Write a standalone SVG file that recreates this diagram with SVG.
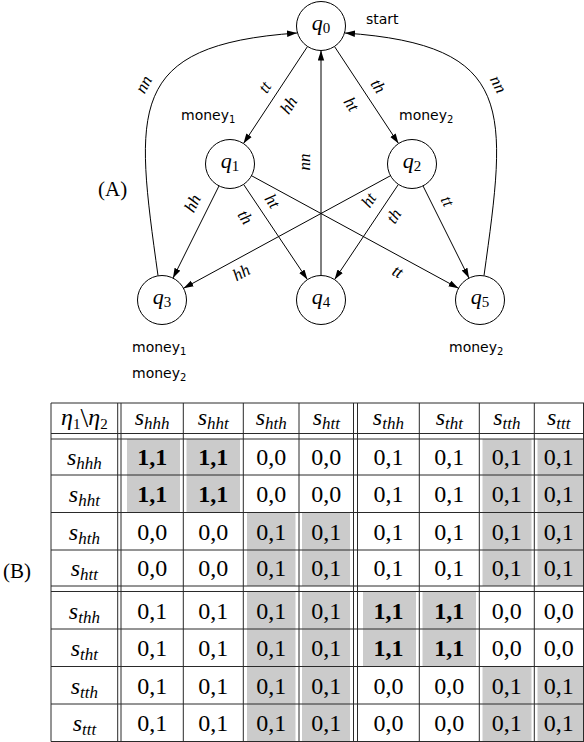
<svg xmlns="http://www.w3.org/2000/svg" width="584" height="742" viewBox="0 0 584 742">
  <style>
    .n circle { fill: #fff; stroke: #000; stroke-width: 1; }
    .nl { font-family: "Liberation Serif", serif; font-size: 22px; text-anchor: middle; }
    .e { fill: none; stroke: #000; stroke-width: 1; marker-end: url(#ah); }
    .lbl { font-family: "Liberation Serif", serif; font-style: italic; font-size: 17px; text-anchor: middle; }
    .sans { font-family: "DejaVu Sans", sans-serif; font-size: 14px; }
    .cap { font-family: "Liberation Serif", serif; font-size: 21px; }
    .tv { font-family: "Liberation Serif", serif; font-size: 24px; text-anchor: middle; }
    .b { font-weight: bold; }
    .g { fill: #cbcbcb; }
    .tl { stroke: #2a2a2a; stroke-width: 1; fill: none; }
    .it { font-style: italic; }
  </style>
  <defs>
    <marker id="ah" markerUnits="userSpaceOnUse" markerWidth="10" markerHeight="8" refX="10" refY="3.5" orient="auto">
      <path d="M0,0.3 L10,3.5 L0,6.7 z" fill="#000"/>
    </marker>
  </defs>

  <!-- part captions -->
  <text class="cap" x="98" y="196">(A)</text>
  <text class="cap" x="3" y="578">(B)</text>

  <!-- transitions -->
  <g id="edges">
    <line class="e" x1="307.5" y1="46.5" x2="243.5" y2="143.5"/>
    <line class="e" x1="334.5" y1="46.5" x2="398.5" y2="143.5"/>
    <line class="e" x1="321" y1="275.5" x2="321" y2="50.5"/>
    <path class="e" d="M158,275.6 C135,110 125,45 297,33"/>
    <path class="e" d="M484,275.6 C507,110 517,45 345,33"/>
    <line class="e" x1="219" y1="185.9" x2="173" y2="278.1"/>
    <line class="e" x1="243.6" y1="184.4" x2="307.4" y2="279.6"/>
    <line class="e" x1="251.5" y1="175.7" x2="458.5" y2="288.3"/>
    <line class="e" x1="390.5" y1="175.7" x2="183.5" y2="288.3"/>
    <line class="e" x1="398.4" y1="184.4" x2="334.6" y2="279.6"/>
    <line class="e" x1="423" y1="185.9" x2="469" y2="278.1"/>

    <text class="lbl" x="266" y="92" transform="rotate(-56.6 266 88)">tt</text>
    <text class="lbl" x="290" y="110" transform="rotate(-56.6 290 106)">hh</text>
    <text class="lbl" x="377" y="91" transform="rotate(56.6 377 87)">th</text>
    <text class="lbl" x="350" y="109" transform="rotate(56.6 350 105)">ht</text>
    <text class="lbl" x="145" y="89" transform="rotate(-62 145 85)">nn</text>
    <text class="lbl" x="497" y="89" transform="rotate(62 497 85)">nn</text>
    <text class="lbl" x="306" y="166" transform="rotate(-90 306 162)">nn</text>
    <text class="lbl" x="194" y="208" transform="rotate(-63.4 194 204)">hh</text>
    <text class="lbl" x="271" y="206" transform="rotate(56.2 271 202)">ht</text>
    <text class="lbl" x="244" y="222" transform="rotate(56.2 244 218)">th</text>
    <text class="lbl" x="397" y="277" transform="rotate(28.5 397 273)">tt</text>
    <text class="lbl" x="242" y="278" transform="rotate(-28.5 242 274)">hh</text>
    <text class="lbl" x="370" y="205" transform="rotate(-56.2 370 201)">ht</text>
    <text class="lbl" x="395" y="221" transform="rotate(-56.2 395 217)">th</text>
    <text class="lbl" x="446" y="206" transform="rotate(63.4 446 202)">tt</text>
  </g>

  <!-- states -->
  <g id="q0" class="n">
    <circle cx="321" cy="26" r="24.5"/>
    <text class="nl" x="321" y="30"><tspan class="it">q</tspan><tspan font-size="15" dy="3">0</tspan></text>
    <text class="sans" x="366" y="24">start</text>
  </g>
  <g id="q1" class="n">
    <circle cx="230" cy="164" r="24.5"/>
    <text class="nl" x="230" y="168"><tspan class="it">q</tspan><tspan font-size="15" dy="3">1</tspan></text>
    <text class="sans" x="181" y="120">money<tspan font-size="10" dy="3">1</tspan></text>
  </g>
  <g id="q2" class="n">
    <circle cx="412" cy="164" r="24.5"/>
    <text class="nl" x="412" y="168"><tspan class="it">q</tspan><tspan font-size="15" dy="3">2</tspan></text>
    <text class="sans" x="399" y="120">money<tspan font-size="10" dy="3">2</tspan></text>
  </g>
  <g id="q3" class="n">
    <circle cx="162" cy="300" r="24.5"/>
    <text class="nl" x="162" y="304"><tspan class="it">q</tspan><tspan font-size="15" dy="3">3</tspan></text>
    <text class="sans" x="132" y="352">money<tspan font-size="10" dy="3">1</tspan></text>
    <text class="sans" x="132" y="378">money<tspan font-size="10" dy="3">2</tspan></text>
  </g>
  <g id="q4" class="n">
    <circle cx="321" cy="300" r="24.5"/>
    <text class="nl" x="321" y="304"><tspan class="it">q</tspan><tspan font-size="15" dy="3">4</tspan></text>
  </g>
  <g id="q5" class="n">
    <circle cx="480" cy="300" r="24.5"/>
    <text class="nl" x="480" y="304"><tspan class="it">q</tspan><tspan font-size="15" dy="3">5</tspan></text>
    <text class="sans" x="449" y="352">money<tspan font-size="10" dy="3">2</tspan></text>
  </g>

  <!-- payoff table -->
  <g id="table">
    <!-- shaded cells -->
    <rect class="g" x="127" y="439" width="53" height="73.5"/>
    <rect class="g" x="186.5" y="439" width="53.5" height="73.5"/>
    <rect class="g" x="482.5" y="439" width="49" height="147"/>
    <rect class="g" x="537.5" y="439" width="46.5" height="147"/>
    <rect class="g" x="247" y="512.5" width="48.5" height="73.5"/>
    <rect class="g" x="302" y="512.5" width="48" height="73.5"/>
    <rect class="g" x="247" y="591.5" width="48.5" height="150"/>
    <rect class="g" x="302" y="591.5" width="48" height="150"/>
    <rect class="g" x="363" y="591.5" width="53" height="75"/>
    <rect class="g" x="422.5" y="591.5" width="53.5" height="75"/>
    <rect class="g" x="482.5" y="666.5" width="49" height="75"/>
    <rect class="g" x="537.5" y="666.5" width="46.5" height="75"/>

    <!-- rules -->
    <path class="tl" d="M51,403H584 M51,433.5H584 M51,439H584 M51,475H584 M51,512.5H584 M51,550H584 M51,586H584 M51,591.5H584 M51,629H584 M51,666.5H584 M51,704H584 M51,741.5H584"/>
    <path class="tl" d="M51,403V741.5 M117.7,403V741.5 M121,403V741.5 M183.3,403V741.5 M243.3,403V741.5 M299,403V741.5 M353.5,403V741.5 M357.5,403V741.5 M419.3,403V741.5 M479.3,403V741.5 M534.3,403V741.5 M583.5,403V741.5"/>

    <!-- header row -->
    <text class="tv" x="84.4" y="425"><tspan class="it">η</tspan><tspan font-size="15" dy="4">1</tspan><tspan font-size="28" dy="-2">\</tspan><tspan class="it" dy="-2">η</tspan><tspan font-size="15" dy="4">2</tspan></text>
    <text class="tv" x="152.2" y="425"><tspan class="it">s</tspan><tspan class="it" font-size="17" dy="4">hhh</tspan></text>
    <text class="tv" x="213.3" y="425"><tspan class="it">s</tspan><tspan class="it" font-size="17" dy="4">hht</tspan></text>
    <text class="tv" x="271.2" y="425"><tspan class="it">s</tspan><tspan class="it" font-size="17" dy="4">hth</tspan></text>
    <text class="tv" x="326.3" y="425"><tspan class="it">s</tspan><tspan class="it" font-size="17" dy="4">htt</tspan></text>
    <text class="tv" x="388.4" y="425"><tspan class="it">s</tspan><tspan class="it" font-size="17" dy="4">thh</tspan></text>
    <text class="tv" x="449.3" y="425"><tspan class="it">s</tspan><tspan class="it" font-size="17" dy="4">tht</tspan></text>
    <text class="tv" x="506.8" y="425"><tspan class="it">s</tspan><tspan class="it" font-size="17" dy="4">tth</tspan></text>
    <text class="tv" x="558.7" y="425"><tspan class="it">s</tspan><tspan class="it" font-size="17" dy="4">ttt</tspan></text>

    <!-- row s_hhh -->
    <text class="tv" x="84.4" y="465"><tspan class="it">s</tspan><tspan class="it" font-size="17" dy="4">hhh</tspan></text>
    <text class="tv b" x="152.2" y="465">1,1</text>
    <text class="tv b" x="213.3" y="465">1,1</text>
    <text class="tv" x="271.2" y="465">0,0</text>
    <text class="tv" x="326.3" y="465">0,0</text>
    <text class="tv" x="388.4" y="465">0,1</text>
    <text class="tv" x="449.3" y="465">0,1</text>
    <text class="tv" x="506.8" y="465">0,1</text>
    <text class="tv" x="558.7" y="465">0,1</text>

    <!-- row s_hht -->
    <text class="tv" x="84.4" y="502"><tspan class="it">s</tspan><tspan class="it" font-size="17" dy="4">hht</tspan></text>
    <text class="tv b" x="152.2" y="502">1,1</text>
    <text class="tv b" x="213.3" y="502">1,1</text>
    <text class="tv" x="271.2" y="502">0,0</text>
    <text class="tv" x="326.3" y="502">0,0</text>
    <text class="tv" x="388.4" y="502">0,1</text>
    <text class="tv" x="449.3" y="502">0,1</text>
    <text class="tv" x="506.8" y="502">0,1</text>
    <text class="tv" x="558.7" y="502">0,1</text>

    <!-- row s_hth -->
    <text class="tv" x="84.4" y="539.5"><tspan class="it">s</tspan><tspan class="it" font-size="17" dy="4">hth</tspan></text>
    <text class="tv" x="152.2" y="539.5">0,0</text>
    <text class="tv" x="213.3" y="539.5">0,0</text>
    <text class="tv" x="271.2" y="539.5">0,1</text>
    <text class="tv" x="326.3" y="539.5">0,1</text>
    <text class="tv" x="388.4" y="539.5">0,1</text>
    <text class="tv" x="449.3" y="539.5">0,1</text>
    <text class="tv" x="506.8" y="539.5">0,1</text>
    <text class="tv" x="558.7" y="539.5">0,1</text>

    <!-- row s_htt -->
    <text class="tv" x="84.4" y="576"><tspan class="it">s</tspan><tspan class="it" font-size="17" dy="4">htt</tspan></text>
    <text class="tv" x="152.2" y="576">0,0</text>
    <text class="tv" x="213.3" y="576">0,0</text>
    <text class="tv" x="271.2" y="576">0,1</text>
    <text class="tv" x="326.3" y="576">0,1</text>
    <text class="tv" x="388.4" y="576">0,1</text>
    <text class="tv" x="449.3" y="576">0,1</text>
    <text class="tv" x="506.8" y="576">0,1</text>
    <text class="tv" x="558.7" y="576">0,1</text>

    <!-- row s_thh -->
    <text class="tv" x="84.4" y="618.5"><tspan class="it">s</tspan><tspan class="it" font-size="17" dy="4">thh</tspan></text>
    <text class="tv" x="152.2" y="618.5">0,1</text>
    <text class="tv" x="213.3" y="618.5">0,1</text>
    <text class="tv" x="271.2" y="618.5">0,1</text>
    <text class="tv" x="326.3" y="618.5">0,1</text>
    <text class="tv b" x="388.4" y="618.5">1,1</text>
    <text class="tv b" x="449.3" y="618.5">1,1</text>
    <text class="tv" x="506.8" y="618.5">0,0</text>
    <text class="tv" x="558.7" y="618.5">0,0</text>

    <!-- row s_tht -->
    <text class="tv" x="84.4" y="656"><tspan class="it">s</tspan><tspan class="it" font-size="17" dy="4">tht</tspan></text>
    <text class="tv" x="152.2" y="656">0,1</text>
    <text class="tv" x="213.3" y="656">0,1</text>
    <text class="tv" x="271.2" y="656">0,1</text>
    <text class="tv" x="326.3" y="656">0,1</text>
    <text class="tv b" x="388.4" y="656">1,1</text>
    <text class="tv b" x="449.3" y="656">1,1</text>
    <text class="tv" x="506.8" y="656">0,0</text>
    <text class="tv" x="558.7" y="656">0,0</text>

    <!-- row s_tth -->
    <text class="tv" x="84.4" y="693.5"><tspan class="it">s</tspan><tspan class="it" font-size="17" dy="4">tth</tspan></text>
    <text class="tv" x="152.2" y="693.5">0,1</text>
    <text class="tv" x="213.3" y="693.5">0,1</text>
    <text class="tv" x="271.2" y="693.5">0,1</text>
    <text class="tv" x="326.3" y="693.5">0,1</text>
    <text class="tv" x="388.4" y="693.5">0,0</text>
    <text class="tv" x="449.3" y="693.5">0,0</text>
    <text class="tv" x="506.8" y="693.5">0,1</text>
    <text class="tv" x="558.7" y="693.5">0,1</text>

    <!-- row s_ttt -->
    <text class="tv" x="84.4" y="731"><tspan class="it">s</tspan><tspan class="it" font-size="17" dy="4">ttt</tspan></text>
    <text class="tv" x="152.2" y="731">0,1</text>
    <text class="tv" x="213.3" y="731">0,1</text>
    <text class="tv" x="271.2" y="731">0,1</text>
    <text class="tv" x="326.3" y="731">0,1</text>
    <text class="tv" x="388.4" y="731">0,0</text>
    <text class="tv" x="449.3" y="731">0,0</text>
    <text class="tv" x="506.8" y="731">0,1</text>
    <text class="tv" x="558.7" y="731">0,1</text>
  </g>
</svg>
